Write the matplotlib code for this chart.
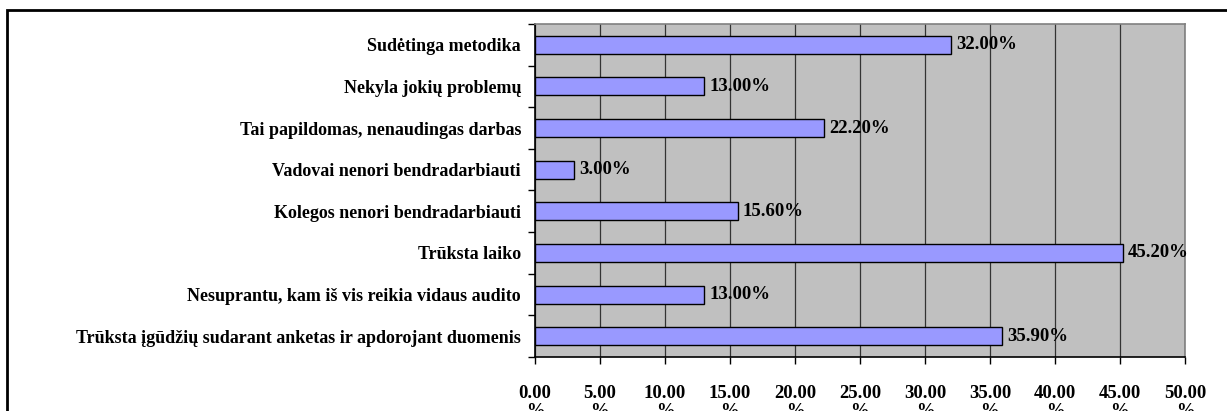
"""Horizontal bar chart: audit problems survey (Excel style)."""
import matplotlib
matplotlib.use('Agg')
import matplotlib.pyplot as plt
import matplotlib.patches as mpatches
import numpy as np

categories = [
    'Trūksta įgūdžių sudarant anketas ir apdorojant duomenis',
    'Nesuprantu, kam iš vis reikia vidaus audito',
    'Trūksta laiko',
    'Kolegos nenori bendradarbiauti',
    'Vadovai nenori bendradarbiauti',
    'Tai papildomas, nenaudingas darbas',
    'Nekyla jokių problemų',
    'Sudėtinga metodika',
]
values = [35.9, 13.0, 45.2, 15.6, 3.0, 22.2, 13.0, 32.0]
x_ticks = [0, 5, 10, 15, 20, 25, 30, 35, 40, 45, 50]

plt.rcParams['font.family'] = ['Liberation Serif', 'DejaVu Serif']
plt.rcParams['font.weight'] = 'bold'

fig = plt.figure(figsize=(12.27, 4.11), dpi=100, facecolor='white')
ax = fig.add_axes([535 / 1227, 1 - 357 / 411, 650 / 1227, 333 / 411])
ax.set_facecolor('#C0C0C0')

# outer chart frame (runs off the bottom/right of the image)
fig.patches.append(mpatches.Rectangle((7 / 1227, -0.2), 1.2, 1.2 - 10 / 411,
                                      transform=fig.transFigure, fill=False,
                                      edgecolor='black', linewidth=2.0, zorder=0))

y = np.arange(len(categories))
ax.barh(y, values, height=0.43, color='#9999FF', edgecolor='black', linewidth=1.0, zorder=3)

for yi, v in zip(y, values):
    ax.text(v + 0.4, yi, f'{v:.2f}%', va='center', ha='left', fontsize=13.5,
            fontweight='bold', zorder=4)

ax.set_xlim(0, 50)
ax.set_ylim(-0.5, len(categories) - 0.5)
ax.set_xticks(x_ticks)
ax.set_xticklabels([f'{t:.2f}\n%' for t in x_ticks], fontsize=13.5, fontweight='bold',
                   linespacing=1.1, va='top')
ax.set_yticks(y)
ax.set_yticklabels(categories, fontsize=13, fontweight='bold')
ax.set_yticks(np.arange(-0.5, len(categories), 1), minor=True)
ax.tick_params(axis='y', which='major', length=0, pad=10)
ax.tick_params(axis='y', which='minor', length=5, direction='out', width=1)
ax.tick_params(axis='x', length=5, direction='out', width=1, pad=15)

ax.xaxis.grid(True, color='#333333', linewidth=0.9, zorder=1)
ax.set_axisbelow(True)

ax.spines['left'].set_color('black')
ax.spines['bottom'].set_color('black')
ax.spines['top'].set_color('#808080')
ax.spines['right'].set_color('#808080')
for s in ax.spines.values():
    s.set_linewidth(1.2)

plt.savefig('out.png', dpi=100, facecolor='white')
